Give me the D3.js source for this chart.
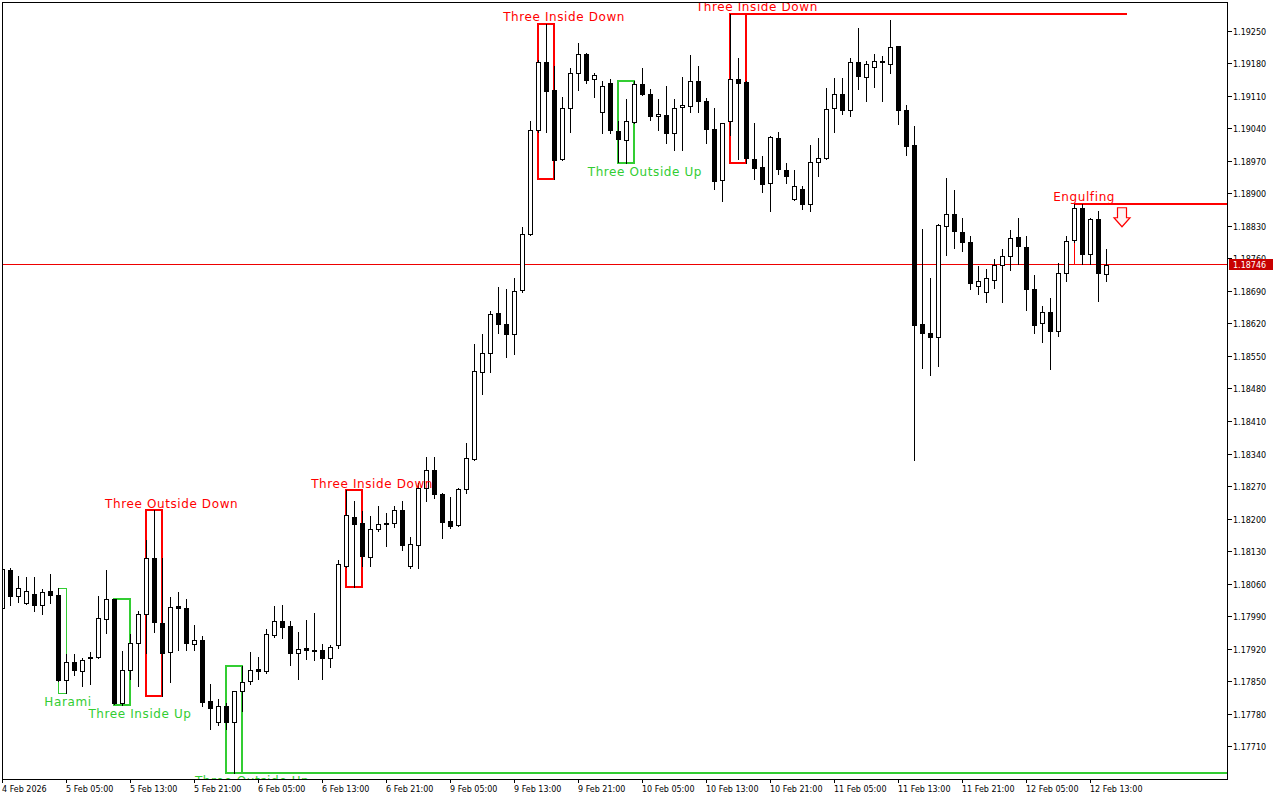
<!DOCTYPE html>
<html><head><meta charset="utf-8">
<script src="https://cdn.jsdelivr.net/npm/d3@7"></script>
<style>html,body{margin:0;padding:0;background:#fff;}svg{display:block;}</style>
</head><body>
<svg id="chart" width="1280" height="800"></svg>
<script>
// ---- data (EURUSD H1 style candles) ----
const opens = [1.18008,1.18089,1.18033,1.18019,1.18038,1.18014,1.18045,1.18036,1.17853,1.17892,
1.17873,1.17899,1.17902,1.17985,1.18026,1.17803,1.17875,1.17933,1.17995,1.18116,
1.17976,1.17914,1.18013,1.18008,1.17931,1.17939,1.17807,1.17763,1.17797,1.17763,
1.17828,1.17850,1.17876,1.17873,1.17950,1.17979,1.17968,1.17911,1.17922,1.17916,
1.17918,1.17899,1.17927,1.18098,1.18204,1.18191,1.18118,1.18178,1.18189,1.18191,
1.18219,1.18099,1.18143,1.18265,1.18305,1.18253,1.18194,1.18187,1.18264,1.18329,
1.18516,1.18557,1.18643,1.18619,1.18598,1.18691,1.18813,1.19036,1.19183,1.19123,
1.18973,1.19084,1.19159,1.19200,1.19147,1.19075,1.19138,1.19035,1.19015,1.19054,
1.19135,1.19114,1.19067,1.19069,1.19030,1.19086,1.19089,1.19142,1.19099,1.19039,
1.18929,1.19055,1.19145,1.19140,1.18974,1.18957,1.18922,1.19019,1.18951,1.18887,
1.18910,1.18878,1.18968,1.18976,1.19084,1.19114,1.19080,1.19183,1.19150,1.19171,
1.19185,1.19178,1.19216,1.19080,1.19003,1.18618,1.18600,1.18591,1.18829,1.18856,
1.18817,1.18796,1.18700,1.18687,1.18713,1.18745,1.18765,1.18806,1.18785,1.18694,
1.18621,1.18645,1.18603,1.18729,1.18800,1.18869,1.18770,1.18844,1.18727];
const highs = [1.18097,1.18094,1.18076,1.18074,1.18074,1.18048,1.18081,1.18051,1.17908,1.17908,
1.17901,1.17914,1.18033,1.18089,1.18028,1.17916,1.17951,1.18002,1.18153,1.18218,
1.18116,1.18032,1.18041,1.18028,1.17972,1.17947,1.17843,1.17811,1.17804,1.17830,
1.17883,1.17914,1.17902,1.17962,1.18012,1.18015,1.17979,1.17957,1.17981,1.17996,
1.17930,1.17929,1.18111,1.18261,1.18238,1.18217,1.18205,1.18228,1.18211,1.18228,
1.18238,1.18161,1.18277,1.18333,1.18333,1.18255,1.18247,1.18266,1.18362,1.18576,
1.18598,1.18646,1.18698,1.18694,1.18718,1.18827,1.19056,1.19188,1.19265,1.19175,
1.19107,1.19170,1.19224,1.19202,1.19160,1.19141,1.19145,1.19055,1.19104,1.19141,
1.19170,1.19125,1.19104,1.19132,1.19104,1.19150,1.19198,1.19173,1.19106,1.19084,
1.19052,1.19287,1.19191,1.19141,1.19051,1.18980,1.19024,1.19032,1.18965,1.18950,
1.18915,1.19005,1.19019,1.19127,1.19148,1.19148,1.19191,1.19256,1.19185,1.19200,
1.19195,1.19272,1.19217,1.19091,1.19044,1.18824,1.18717,1.18833,1.18933,1.18908,
1.18846,1.18808,1.18743,1.18738,1.18759,1.18781,1.18822,1.18846,1.18809,1.18725,
1.18657,1.18675,1.18750,1.18809,1.18878,1.18878,1.18846,1.18861,1.18781];
const lows = [1.18005,1.18014,1.18020,1.18017,1.18001,1.17995,1.18018,1.17850,1.17825,1.17863,
1.17840,1.17845,1.17901,1.17953,1.17800,1.17799,1.17854,1.17840,1.17911,1.17955,
1.17818,1.17849,1.17917,1.17917,1.17918,1.17797,1.17748,1.17756,1.17747,1.17653,
1.17785,1.17845,1.17854,1.17868,1.17946,1.17944,1.17885,1.17854,1.17897,1.17896,
1.17854,1.17881,1.17921,1.18095,1.18053,1.18099,1.18099,1.18173,1.18142,1.18183,
1.18132,1.18094,1.18094,1.18238,1.18245,1.18159,1.18180,1.18185,1.18255,1.18327,
1.18469,1.18516,1.18600,1.18547,1.18555,1.18688,1.18810,1.19033,1.19032,1.18930,
1.18971,1.19033,1.19123,1.19138,1.19107,1.19030,1.19030,1.18967,1.18965,1.19052,
1.19112,1.19057,1.19036,1.19008,1.18993,1.18994,1.19075,1.19076,1.19008,1.18910,
1.18883,1.19026,1.18974,1.18965,1.18930,1.18903,1.18861,1.18942,1.18922,1.18885,
1.18867,1.18861,1.18937,1.18974,1.19033,1.19071,1.19066,1.19125,1.19098,1.19129,
1.19098,1.19160,1.19050,1.18983,1.18327,1.18525,1.18509,1.18528,1.18768,1.18783,
1.18775,1.18695,1.18684,1.18666,1.18696,1.18666,1.18734,1.18749,1.18650,1.18600,
1.18580,1.18522,1.18592,1.18711,1.18795,1.18747,1.18748,1.18668,1.18711];
const closes = [1.18091,1.18033,1.18051,1.18045,1.18014,1.18043,1.18035,1.17852,1.17891,1.17874,
1.17896,1.17903,1.17987,1.18026,1.17803,1.17875,1.17933,1.17995,1.18116,1.17978,
1.17911,1.18010,1.18007,1.17932,1.17939,1.17806,1.17792,1.17797,1.17763,1.17828,
1.17849,1.17874,1.17873,1.17951,1.17980,1.17967,1.17911,1.17920,1.17917,1.17918,
1.17899,1.17924,1.18102,1.18208,1.18188,1.18119,1.18178,1.18189,1.18191,1.18219,
1.18143,1.18146,1.18266,1.18305,1.18253,1.18192,1.18185,1.18263,1.18331,1.18518,
1.18557,1.18641,1.18619,1.18598,1.18689,1.18813,1.19036,1.19183,1.19121,1.18971,
1.19084,1.19159,1.19200,1.19143,1.19154,1.19130,1.19036,1.19017,1.19056,1.19135,
1.19114,1.19066,1.19071,1.19030,1.19084,1.19090,1.19142,1.19098,1.19039,1.18926,
1.19051,1.19147,1.19138,1.18975,1.18955,1.18920,1.19021,1.18953,1.18937,1.18915,
1.18878,1.18968,1.18976,1.19082,1.19114,1.19079,1.19183,1.19152,1.19178,1.19185,
1.19183,1.19215,1.19079,1.19001,1.18616,1.18600,1.18591,1.18831,1.18856,1.18820,
1.18796,1.18706,1.18711,1.18718,1.18746,1.18765,1.18804,1.18786,1.18694,1.18616,
1.18645,1.18603,1.18729,1.18798,1.18869,1.18770,1.18844,1.18729,1.18746];

const timeLabels = ["4 Feb 2026","5 Feb 05:00","5 Feb 13:00","5 Feb 21:00","6 Feb 05:00","6 Feb 13:00",
"6 Feb 21:00","9 Feb 05:00","9 Feb 13:00","9 Feb 21:00","10 Feb 05:00","10 Feb 13:00","10 Feb 21:00",
"11 Feb 05:00","11 Feb 13:00","11 Feb 21:00","12 Feb 05:00","12 Feb 13:00"];
const timeLabelBars = [0,8,16,24,32,40,48,56,64,72,80,88,96,104,112,120,128,136];
const priceTicks = [1.17710,1.17780,1.17850,1.17920,1.17990,1.18060,1.18130,1.18200,1.18270,1.18340,
1.18410,1.18480,1.18550,1.18620,1.18690,1.18760,1.18830,1.18900,1.18970,1.19040,1.19110,1.19180,1.19250];

// candle patterns
const patternNames  = ["Harami","Three Inside Up","Three Outside Down","Three Outside Up","Three Inside Down",
                       "Three Inside Down","Three Outside Up","Three Inside Down","Engulfing"];
const patternFirst  = [7,14,18,28,43,67,77,91,134];
const patternLast   = [8,16,20,30,45,69,79,93,135];
const patternBull   = [true,true,false,true,false,false,true,false,false];
const patternThin   = [true,false,false,false,false,false,false,false,true];
const patternLabelBar = [8.19,17.19,21.15,31.2,46.2,70.2,80.3,94.3,135.2];
// extension lines: [pattern index, edge ("high"/"low"), end bar (null = right edge)]
const extPattern = [3,7,8];
const extEdge = ["low","high","high"];
const extEnd = [null,140.5,null];
const arrowBar = 140, arrowPrice = 1.18869;
const currentPrice = 1.18746;

// ---- layout ----
const W = 1280, H = 800;
const plot = {left:2, top:2, right:1227, bottom:779};
const RED = "#ff0000", GREEN = "#32cd32", PRICE_LINE = "#ee0000", PRICE_TAG = "#c80000";
const FONT = "'DejaVu Sans', Verdana, sans-serif";

const svg = d3.select("#chart");
svg.append("rect").attr("width",W).attr("height",H).attr("fill","#fff");

const x = d3.scaleLinear().domain([0,153]).range([2.5, 2.5+153*8]);
const y = d3.scaleLinear().domain([1.17710,1.19250]).range([746.3,30.7]);
const ry = v => Math.round(y(v));

svg.append("defs").append("clipPath").attr("id","plotclip")
  .append("rect").attr("x",plot.left).attr("y",plot.top)
  .attr("width",plot.right-plot.left).attr("height",plot.bottom-plot.top);

const g = svg.append("g").attr("clip-path","url(#plotclip)");

// current price line
g.append("rect").attr("x",plot.left).attr("width",plot.right-plot.left)
  .attr("y",Math.floor(y(currentPrice))).attr("height",1)
  .attr("fill",PRICE_LINE).attr("shape-rendering","crispEdges");

// pattern boxes
const idx = d3.range(patternNames.length);
const boxHi = idx.map(i => d3.max(d3.range(patternFirst[i],patternLast[i]+1), k => highs[k]));
const boxLo = idx.map(i => d3.min(d3.range(patternFirst[i],patternLast[i]+1), k => lows[k]));
const boxG = g.append("g").attr("shape-rendering","crispEdges");
idx.forEach(i => {
  const col = patternBull[i] ? GREEN : RED;
  const thin = patternThin[i];
  const off = thin ? 0 : -0.5;
  const yoff = thin ? 0.5 : 0;
  const x0 = x(patternFirst[i]) + off, x1 = x(patternLast[i]) + off;
  const y0 = ry(boxHi[i]) + yoff, y1 = ry(boxLo[i]) + yoff;
  boxG.append("rect").attr("x",x0).attr("y",y0).attr("width",x1-x0).attr("height",y1-y0)
    .attr("fill","none").attr("stroke",col).attr("stroke-width",thin?1:2);
});
// extension lines
extPattern.forEach((p,j) => {
  const col = patternBull[p] ? GREEN : RED;
  const yy = extEdge[j]==="high" ? ry(boxHi[p]) : ry(boxLo[p]);
  const xs = x(patternFirst[p]) - 0.5;
  const xe = extEnd[j]===null ? plot.right : x(extEnd[j]);
  boxG.append("line").attr("x1",xs).attr("x2",xe).attr("y1",yy).attr("y2",yy)
    .attr("stroke",col).attr("stroke-width",2);
});

// candles
const cg = g.append("g").attr("shape-rendering","crispEdges");
opens.forEach((o,i) => {
  const c = closes[i];
  const cx = x(i);
  cg.append("line").attr("x1",cx).attr("x2",cx)
    .attr("y1",ry(highs[i])).attr("y2",ry(lows[i])+1)
    .attr("stroke","#000").attr("stroke-width",1);
  const yt = ry(Math.max(o,c)), yb = ry(Math.min(o,c));
  if (yb - yt < 1) {
    cg.append("line").attr("x1",cx-2.5).attr("x2",cx+2.5).attr("y1",yt+0.5).attr("y2",yt+0.5)
      .attr("stroke","#000").attr("stroke-width",1);
  } else {
    cg.append("rect").attr("x",cx-2).attr("y",yt+0.5).attr("width",4).attr("height",yb-yt)
      .attr("fill", c>o ? "#fff" : "#000").attr("stroke","#000").attr("stroke-width",1);
  }
});

// pattern labels
idx.forEach(i => {
  const col = patternBull[i] ? GREEN : RED;
  const yy = patternBull[i] ? y(boxLo[i]) + 12.7 : y(boxHi[i]) - 2.6;
  g.append("text").attr("x",x(patternLabelBar[i])).attr("y",yy)
    .attr("text-anchor","middle").attr("fill",col)
    .style("font-family",FONT).style("font-size","12px").style("letter-spacing","0.6px")
    .text(patternNames[i]);
});

// arrow (sell signal)
const ax = x(arrowBar) - 0.5, ay = y(arrowPrice);
g.append("path")
  .attr("d",`M${ax-4.5},${ay} L${ax+4.5},${ay} L${ax+4.5},${ay+10} L${ax+8},${ay+10} L${ax},${ay+19} L${ax-8},${ay+10} L${ax-4.5},${ay+10} Z`)
  .attr("fill","#fff4f4").attr("stroke",RED).attr("stroke-width",1.2);

// frame
svg.append("rect").attr("x",plot.left+0.5).attr("y",plot.top+0.5)
  .attr("width",plot.right-plot.left).attr("height",plot.bottom-plot.top)
  .attr("fill","none").attr("stroke","#000").attr("stroke-width",1).attr("shape-rendering","crispEdges");

// price axis
const pa = svg.append("g").style("font-family",FONT).style("font-size","8px");
priceTicks.forEach(p => {
  const yy = ry(p) + 0.5;
  pa.append("line").attr("x1",plot.right+0.5).attr("x2",plot.right+4.5).attr("y1",yy).attr("y2",yy)
    .attr("stroke","#000").attr("shape-rendering","crispEdges");
  pa.append("text").attr("x",plot.right+6).attr("y",yy+3).attr("fill","#000").text(p.toFixed(5));
});
// current price tag
const cy = Math.floor(y(currentPrice)) + 0.5;
pa.append("rect").attr("x",1229).attr("y",cy-5.5).attr("width",44).attr("height",11)
  .attr("fill",PRICE_TAG).attr("shape-rendering","crispEdges");
pa.append("text").attr("x",plot.right+6).attr("y",cy+3).attr("fill","#fff").text(currentPrice.toFixed(5));

// time axis
const ta = svg.append("g").style("font-family",FONT).style("font-size","8px");
timeLabels.forEach((t,i) => {
  const xx = x(timeLabelBars[i]);
  ta.append("line").attr("x1",xx).attr("x2",xx).attr("y1",plot.bottom).attr("y2",plot.bottom+4)
    .attr("stroke","#000").attr("shape-rendering","crispEdges");
  ta.append("text").attr("x",xx-0.5).attr("y",792).attr("fill","#000").text(t);
});
</script>
</body></html>
